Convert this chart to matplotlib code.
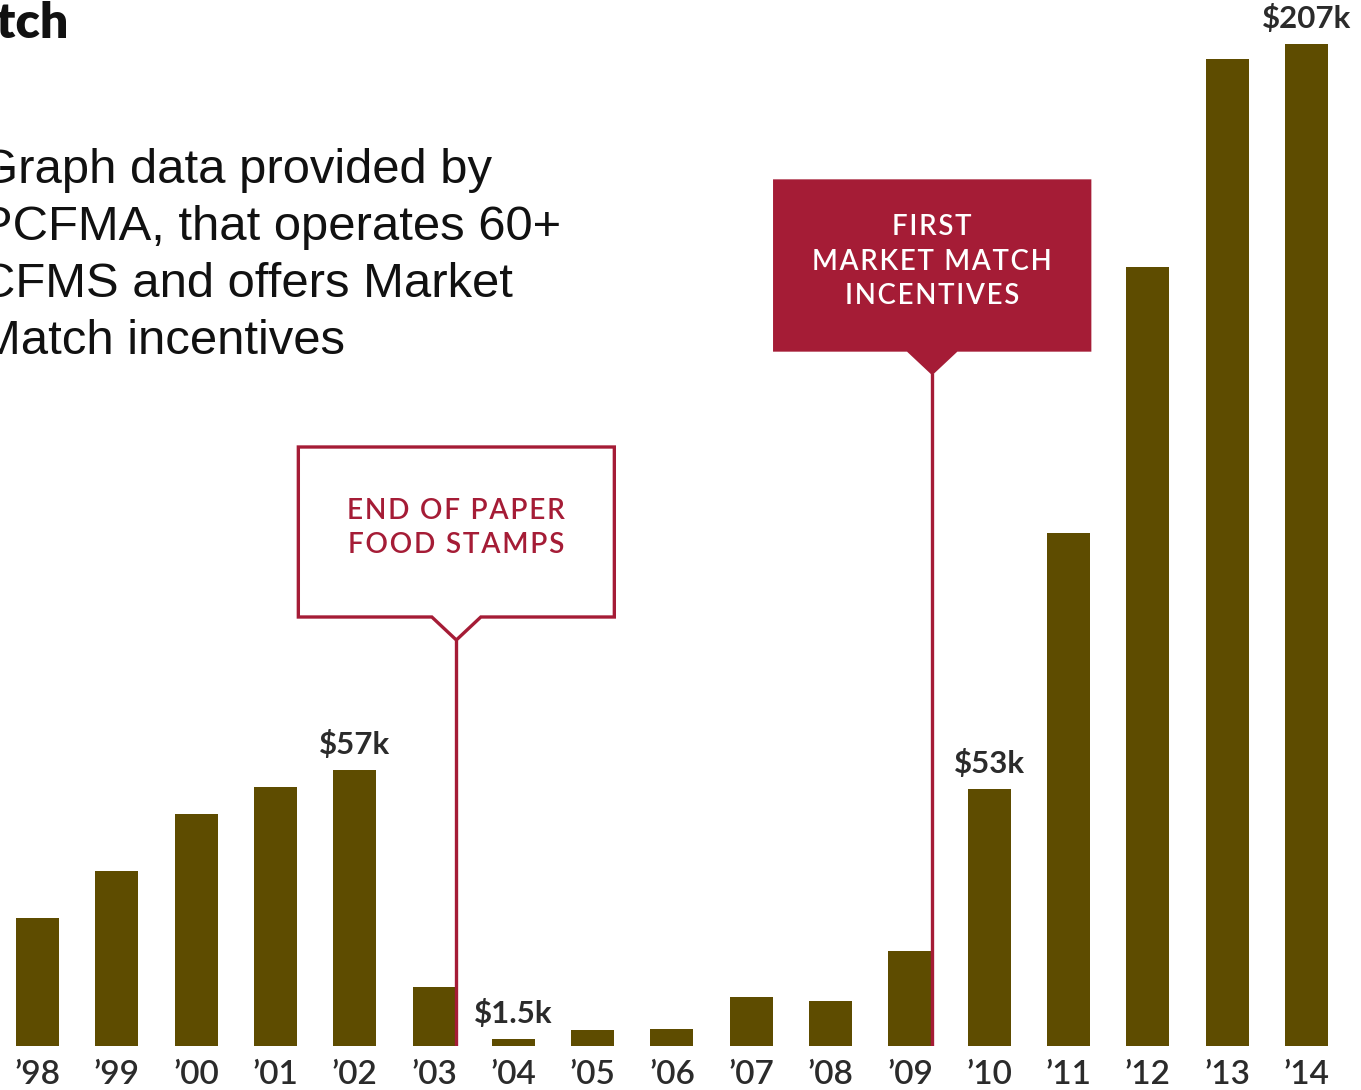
import matplotlib
matplotlib.use("Agg")
from matplotlib import pyplot as plt
from matplotlib.patches import Polygon

years = ["’98", "’99", "’00", "’01", "’02", "’03", "’04", "’05", "’06",
         "’07", "’08", "’09", "’10", "’11", "’12", "’13", "’14"]
# redemptions in thousands of dollars
values = [26.4, 36.1, 47.9, 53.6, 57, 12.2, 1.5, 3.4, 3.6,
          10.1, 9.3, 19.7, 53, 106, 161, 204, 207]
labelled = {4: "$57k", 6: "$1.5k", 12: "$53k", 16: "$207k"}

events = [(5, "END OF PAPER\nFOOD STAMPS", False),
          (11, "FIRST\nMARKET MATCH\nINCENTIVES", True)]

note = ["Graph data provided by", "PCFMA, that operates 60+",
        "CFMS and offers Market", "Match incentives"]

BAR = "#5e4c00"
RED = "#a51c36"
INK = "#2b2b2b"

W, H = 1361, 1090
fig = plt.figure(figsize=(W / 100, H / 100), dpi=100)
fig.patch.set_facecolor("white")

base = 44  # px from bottom to the bar baseline
scale = 4.84  # px per $1k
ax = fig.add_axes([0, base / H, 1, (H - base) / H])
ax.set_ylim(0, (H - base) / scale)
step = 79.31
ax.set_xlim(-37.5 / step, (W - 37.5) / step)

width = 0.542
x = list(range(len(years)))
ax.bar(x, values, width=width, color=BAR, zorder=2)

ax.set_xticks(x)
ax.set_xticklabels(years, fontsize=24, family="Lato", fontweight="semibold",
                   color=INK)
ax.tick_params(axis="x", length=0, pad=10)
ax.set_yticks([])
for s in ax.spines.values():
    s.set_visible(False)
ax.patch.set_alpha(0)

for i, txt in labelled.items():
    ax.annotate(txt, xy=(i, values[i]), xytext=(0, 8), textcoords="offset points",
                ha="center", va="bottom", fontsize=22.5, family="Lato",
                fontweight="bold", color=INK)


def spaced(s):
    # tracked caps: hair space between letters
    return "\n".join("\u200a".join(line) for line in s.split("\n"))


# callout boxes with a pointer line down to the right edge of the bar
def callout(i, text, filled, top_px, bottom_px, box_w_px, size):
    px2y = lambda p: (H - base - p) / scale
    cx = i + width / 2 + 0.01
    hw = box_w_px / 2 / step
    nw = 24.5 / step
    y0, y1 = px2y(bottom_px), px2y(top_px)
    tip = px2y(bottom_px + 23)
    pts = [(cx - hw, y0), (cx - nw, y0), (cx, tip), (cx + nw, y0),
           (cx + hw, y0), (cx + hw, y1), (cx - hw, y1)]
    poly = Polygon(pts, closed=True, joinstyle="miter", zorder=3,
                   facecolor=RED if filled else "white",
                   edgecolor=RED, linewidth=2.4)
    ax.add_patch(poly)
    ax.plot([cx, cx], [0, tip], color=RED, lw=2.4, zorder=3,
            solid_capstyle="butt")
    ax.text(cx, (y0 + y1) / 2 + 0.8, spaced(text),
            ha="center", va="center", fontsize=size,
            family=["Lato", "DejaVu Sans"], fontweight="semibold",
            color="white" if filled else RED, linespacing=1.4, zorder=4)

callout(events[0][0], events[0][1], events[0][2], 447, 617, 316, 20.2)
callout(events[1][0], events[1][1], events[1][2], 181, 350, 315, 19.8)

fig.text(68 / W, 1 - 38 / H, "Market Match", ha="right", va="baseline",
         fontsize=36, family="Lato", fontweight="heavy", color="#111111")

for k, line in enumerate(note):
    fig.text(-20 / W, 1 - (183 + 57 * k) / H, line, ha="left", va="baseline",
             fontsize=35.3, family="Liberation Sans", color="#111111")

fig.savefig("out.png", dpi=100, facecolor="white")
